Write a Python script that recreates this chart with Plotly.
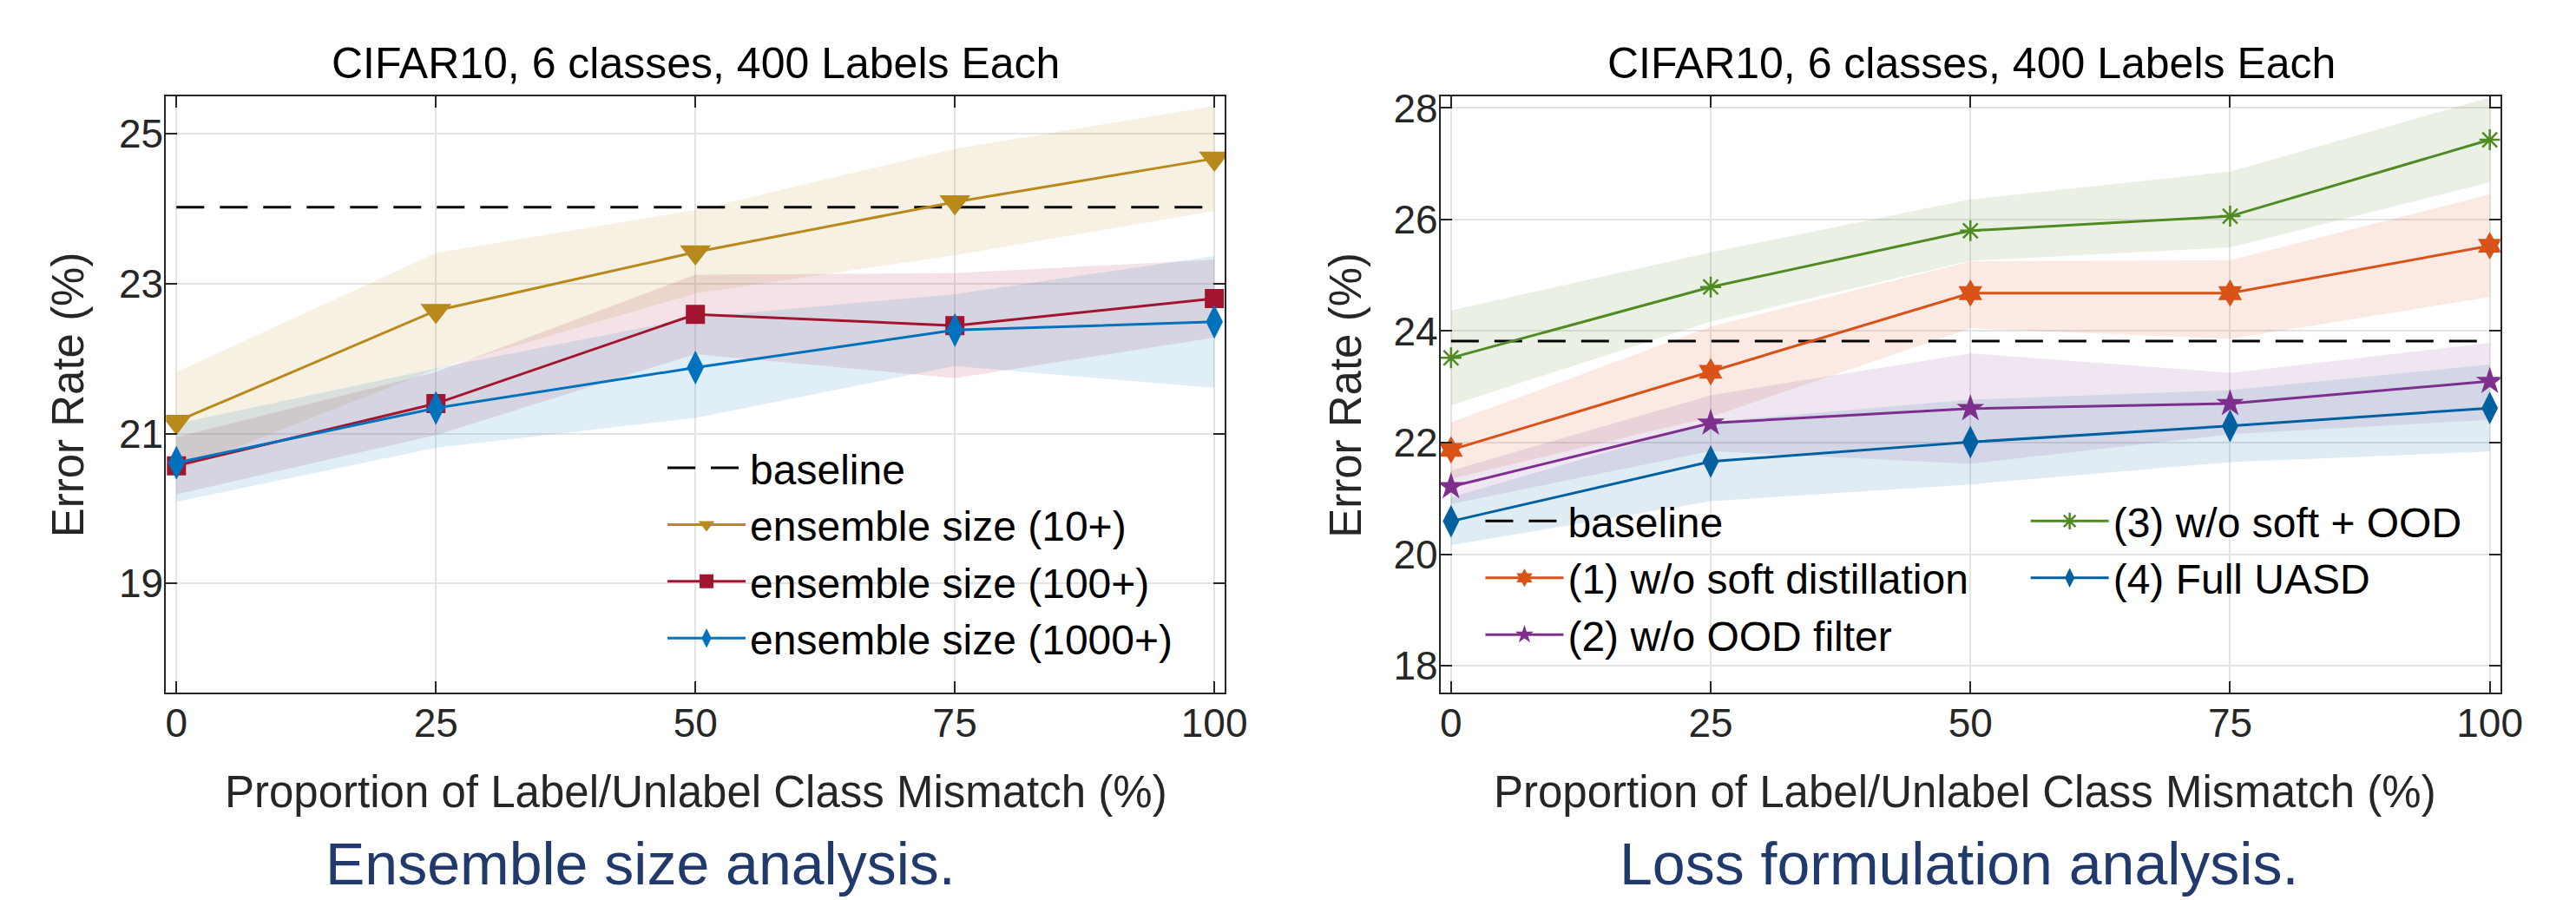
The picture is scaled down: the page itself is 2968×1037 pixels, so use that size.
import plotly.graph_objects as go

W, H = 2968, 1037
FONT = "Liberation Sans"
TXT = "#262626"

# ---------------- data ----------------
mismatch = [0, 25, 50, 75, 100]
x_tick_labels = ["0", "25", "50", "75", "100"]
left_y_ticks = [19, 21, 23, 25]
right_y_ticks = [18, 20, 22, 24, 26, 28]

# Left panel: ensemble size analysis
left_baseline = 24.02
ens10_mean = [21.16, 22.64, 23.42, 24.09, 24.67]
ens10_low = [20.50, 21.86, 22.87, 23.38, 23.97]
ens10_high = [21.82, 23.41, 23.98, 24.80, 25.37]
ens100_mean = [20.57, 21.40, 22.59, 22.44, 22.80]
ens100_low = [20.19, 20.98, 22.06, 21.74, 22.28]
ens100_high = [20.95, 21.82, 23.12, 23.14, 23.32]
ens1000_mean = [20.61, 21.34, 21.88, 22.38, 22.49]
ens1000_low = [20.09, 20.81, 21.21, 21.90, 21.61]
ens1000_high = [21.13, 21.87, 22.55, 22.86, 23.37]

# Right panel: loss formulation analysis
right_baseline = 23.82
nosoft_mean = [21.87, 23.27, 24.68, 24.68, 25.53]
nosoft_low = [21.35, 22.46, 24.05, 23.86, 24.61]
nosoft_high = [22.36, 24.08, 25.25, 25.27, 26.45]
noood_mean = [21.21, 22.35, 22.61, 22.70, 23.10]
noood_low = [20.90, 21.85, 21.62, 22.15, 22.41]
noood_high = [21.50, 22.85, 23.60, 23.25, 23.79]
noboth_mean = [23.52, 24.79, 25.80, 26.06, 27.43]
noboth_low = [22.67, 24.17, 25.26, 25.50, 26.67]
noboth_high = [24.37, 25.41, 26.36, 26.86, 28.19]
full_mean = [20.59, 21.66, 22.01, 22.30, 22.62]
full_low = [20.16, 20.95, 21.25, 21.65, 21.84]
full_high = [21.02, 22.37, 22.77, 22.94, 23.40]

left_names = ["ensemble size (10+)", "ensemble size (100+)", "ensemble size (1000+)"]
right_names = ["(1) w/o soft distillation", "(2) w/o OOD filter",
               "(3) w/o soft + OOD", "(4) Full UASD"]

# ---------------- styles ----------------
C_GOLD = (184, 137, 27)
C_RED = (162, 20, 47)
C_BLUE = (0, 114, 189)
C_ORANGE = (217, 83, 25)
C_PURPLE = (126, 47, 142)
C_GREEN = (79, 138, 35)
C_BLUE2 = (0, 96, 160)


def rgb(c):
    return "rgb(%d,%d,%d)" % c


def rgba(c, a):
    return "rgba(%d,%d,%d,%.3f)" % (c + (a,))


fig = go.Figure()


def band(lo, hi, col, xa, ya, alpha=0.12):
    fig.add_trace(go.Scatter(
        x=mismatch + mismatch[::-1], y=hi + lo[::-1],
        fill="toself", fillcolor=rgba(col, alpha), mode="lines",
        line=dict(width=0), hoverinfo="skip", showlegend=False,
        xaxis=xa, yaxis=ya))


def series(y, name, col, symbol, size, xa, ya, legend, open_sym=False):
    marker = dict(symbol=symbol, size=size, color=rgb(col),
                  line=dict(width=0, color=rgb(col)))
    if open_sym:
        marker["line"] = dict(width=2.5, color=rgb(col))
    fig.add_trace(go.Scatter(
        x=mismatch, y=y, name=name, mode="lines+markers",
        line=dict(color=rgb(col), width=3), marker=marker,
        xaxis=xa, yaxis=ya, legend=legend))


def baseline(val, xa, ya, legend):
    fig.add_trace(go.Scatter(
        x=[mismatch[0], mismatch[-1]], y=[val, val], name="baseline",
        mode="lines", line=dict(color="black", width=3, dash="32px,18px"),
        xaxis=xa, yaxis=ya, legend=legend))


# left bands
band(ens10_low, ens10_high, C_GOLD, "x", "y")
band(ens100_low, ens100_high, C_RED, "x", "y")
band(ens1000_low, ens1000_high, C_BLUE, "x", "y")
# right bands
band(noboth_low, noboth_high, C_GREEN, "x2", "y2")
band(nosoft_low, nosoft_high, C_ORANGE, "x2", "y2")
band(noood_low, noood_high, C_PURPLE, "x2", "y2")
band(full_low, full_high, C_BLUE2, "x2", "y2")

# left lines
baseline(left_baseline, "x", "y", "legend")
series(ens10_mean, left_names[0], C_GOLD, "triangle-down", 31, "x", "y", "legend")
series(ens100_mean, left_names[1], C_RED, "square", 22, "x", "y", "legend")
series(ens1000_mean, left_names[2], C_BLUE, "diamond-tall", 28, "x", "y", "legend")

# right lines
baseline(right_baseline, "x2", "y2", "legend2")
series(nosoft_mean, right_names[0], C_ORANGE, "hexagram", 24, "x2", "y2", "legend2")
series(noood_mean, right_names[1], C_PURPLE, "star", 24, "x2", "y2", "legend2")
series(noboth_mean, right_names[2], C_GREEN, "asterisk-open", 20, "x2", "y2", "legend3", open_sym=True)
series(full_mean, right_names[3], C_BLUE2, "diamond-tall", 27, "x2", "y2", "legend3")

# ---------------- layout ----------------
def px_x(p):
    return p / W


def px_y(p):
    return 1 - p / H


axis_common = dict(
    ticks="inside", ticklen=13, tickwidth=2, tickcolor=TXT,
    showline=True, linewidth=2, linecolor=TXT, mirror="ticks",
    showgrid=True, gridcolor="#E4E4E4", gridwidth=1.5, zeroline=False,
    tickfont=dict(family=FONT, size=46, color=TXT),
)

ydom = [px_y(787), px_y(92)]
LEG_FONT = dict(family=FONT, size=48, color="black")

fig.update_layout(
    width=W, height=H, margin=dict(l=0, r=0, t=0, b=0),
    paper_bgcolor="white", plot_bgcolor="white",
    font=dict(family=FONT, color=TXT),
    xaxis=dict(domain=[px_x(184), px_x(1415)], range=[-1, 101],
               tickvals=mismatch, ticktext=x_tick_labels,
               ticklabelstandoff=-6, anchor="y", **axis_common),
    yaxis=dict(domain=ydom, range=[17.545, 25.5], tickvals=left_y_ticks,
               ticklabelstandoff=-8, anchor="x", **axis_common),
    xaxis2=dict(domain=[px_x(1666), px_x(2898)], range=[-1, 101],
                tickvals=mismatch, ticktext=x_tick_labels,
                ticklabelstandoff=-6, anchor="y2", **axis_common),
    yaxis2=dict(domain=ydom, range=[17.52, 28.21], tickvals=right_y_ticks,
                ticklabelstandoff=-8, anchor="x2", **axis_common),
    showlegend=True,
    legend=dict(x=px_x(762), y=px_y(487), xanchor="left", yanchor="top",
                bgcolor="rgba(0,0,0,0)", itemwidth=90, font=LEG_FONT),
    legend2=dict(x=px_x(1713), y=px_y(549), xanchor="left", yanchor="top",
                 bgcolor="rgba(0,0,0,0)", itemwidth=90, font=LEG_FONT),
    legend3=dict(x=px_x(2347), y=px_y(549), xanchor="left", yanchor="top",
                 bgcolor="rgba(0,0,0,0)", itemwidth=90, font=LEG_FONT),
)

ann = []
for cx in (800, 2283):
    ann.append(dict(text="CIFAR10, 6 classes, 400 Labels Each", x=px_x(cx), y=px_y(54),
                    xref="paper", yref="paper", xanchor="center", yanchor="middle",
                    showarrow=False, font=dict(family=FONT, size=50, color="black")))
for cx in (800, 2276):
    ann.append(dict(text="Proportion of Label/Unlabel Class Mismatch (%)", x=px_x(cx), y=px_y(903),
                    xref="paper", yref="paper", xanchor="center", yanchor="middle",
                    showarrow=False, font=dict(family=FONT, size=51, color=TXT)))
for cx in (71, 1556):
    ann.append(dict(text="Error Rate (%)", x=px_x(cx), y=px_y(440), textangle=-90,
                    xref="paper", yref="paper", xanchor="center", yanchor="middle",
                    showarrow=False, font=dict(family=FONT, size=51, color=TXT)))
ann.append(dict(text="Ensemble size analysis.", x=px_x(736), y=px_y(986),
                xref="paper", yref="paper", xanchor="center", yanchor="middle",
                showarrow=False, font=dict(family=FONT, size=68, color="#22396B")))
ann.append(dict(text="Loss formulation analysis.", x=px_x(2269), y=px_y(986),
                xref="paper", yref="paper", xanchor="center", yanchor="middle",
                showarrow=False, font=dict(family=FONT, size=68, color="#22396B")))
fig.update_layout(annotations=ann)

fig.write_html("out.html", config={"displayModeBar": False})
